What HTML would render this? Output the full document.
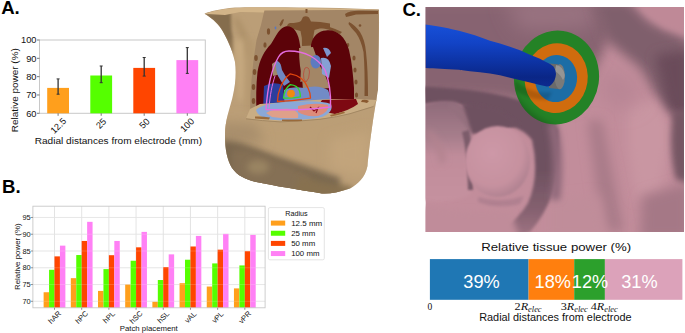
<!DOCTYPE html>
<html><head><meta charset="utf-8"><style>
html,body{margin:0;padding:0;background:#fff;width:685px;height:333px;overflow:hidden}
svg{display:block;font-family:"Liberation Sans", sans-serif}
</style></head><body>
<svg width="685" height="333" viewBox="0 0 685 333">
<defs>
<clipPath id="tc"><path id="tbody" d="M204.5 13.8 C210 11.5 220 9 235 7.6 C270 6.8 330 7.2 378.8 9.5 C379.8 30 377.5 70 376.5 100 C372.5 120 369 150 367.5 166 C365 178 358 184 350 188.5 C340 192 330 194 322 193.5 C300 190 275 186 255 181.8 C245 179 238 176 232 168 C226 158 224.5 145 225.2 130 C226.5 115 231 105 233 95 C235.5 85 236.4 72 235 62 C232 48 226 37 222 30 C217 22 210 17 204.5 13.8 Z"/></clipPath>
<linearGradient id="skin" x1="0" y1="0" x2="1" y2="1">
<stop offset="0" stop-color="#c9a97b"/><stop offset="1" stop-color="#b69a70"/>
</linearGradient>
</defs>
<g clip-path="url(#tc)">
<rect x="200" y="0" width="185" height="200" fill="#bb9e77"/>
<!-- shoulder front shadow -->
<path d="M203 13.5 L231 12.5 L231.5 30 L234 45 L233 56 L226 40 L216 24 Z" fill="#856d4d" filter="url(#b15)"/><path d="M236 16 Q246 30 252 55 L248 58 Q242 35 234 20 Z" fill="#a88c64" filter="url(#b3)"/>
<path d="M233 40 L244 40 L246 70 L244 100 L238 100 L236 60 Z" fill="#c6a97f" filter="url(#b3)"/><path d="M246 40 L256 40 L256 112 L246 112 Z" fill="#b59870" filter="url(#b3)"/>
<!-- lower shadow band -->
<path d="M220 118 L300 122 L376 104 L376 135 L300 150 L222 138 Z" fill="#bb9e76" filter="url(#b6)"/>
<path d="M220 122 L255 124 L265 142 L220 145 Z" fill="#a88e6c" filter="url(#b6)"/>
<path d="M220 140 Q240 141 252 147 Q275 156 300 164 Q320 171 340 177 L340 200 L220 200 Z" fill="#7a6850" filter="url(#b3)"/>
<path d="M232 150 Q250 148 262 155 Q290 165 310 176 L310 200 L232 200 Z" fill="#857055" filter="url(#b3)"/>
<ellipse cx="258" cy="167" rx="11" ry="7" fill="#9a8462" filter="url(#b3)"/>
<path d="M300 176 Q330 185 350 186 L360 200 L290 200 Z" fill="#87714f" filter="url(#b3)"/>
<path d="M330 140 Q350 135 370 130 L368 175 Q350 175 330 168 Z" fill="#c2a47b" filter="url(#b6)"/>
<!-- top surface strip -->
<path d="M204.5 13.8 C215 10 230 8 250 7 L378.8 9.5 L378.8 11.5 L264 12.5 L240 12 L225 15 Z" fill="#d2b488"/>
</g>
<!-- cut face -->
<path d="M264.4 10.5 L378.8 9.8 L378.6 60 L378 90 L376 101 L345 106 L300 115 L250 114 L250.5 95 L251.5 80 L253.5 60 L256.5 40 L261 25 Z" fill="#a38666"/>
<!-- brown spots/muscle -->
<g fill="#7c5230">
<path d="M303 17 Q306 15.5 309 17.5 L311 21.5 Q320 21.5 330 23.5 L330 28 Q320 27.5 314.5 30 Q312.5 38 313 45.5 L302 46 Q302.5 38 300.5 31 Q294 29 287.5 27.5 Q286 24.5 290 23 Q298 23 301 21 Z"/>
<path d="M305.5 9 L307.5 9 L307.5 13 L305.5 13 Z"/>
<path d="M345 14 Q350 10.5 360 10.8 L378 11 L378 14 Q365 14 356 14.5 Q350 16 346 17 Z"/>
<path d="M349 22 Q355 25 360 32 Q365 40 366 52 Q368 70 368 96 L364.5 96 Q365 70 363.5 52 Q361 40 356 33 Q351 28 348.5 24 Z"/>
<circle cx="360" cy="25.5" r="1.3"/>
<path d="M316 24 Q330 26 342 32 L340 34 Q330 29 316 27 Z"/>
<ellipse cx="348" cy="45" rx="1.3" ry="2"/>
<ellipse cx="354" cy="58" rx="1.6" ry="2.6"/>
<ellipse cx="355" cy="70" rx="1.6" ry="2.6"/>
<ellipse cx="356" cy="82" rx="1.6" ry="2.6"/>
<ellipse cx="356.5" cy="95" rx="1.6" ry="2.6"/>
<path d="M279.5 24.5 Q282 18.5 284 19.5 Q283 24 280.5 26.5 Z"/>
<ellipse cx="268.5" cy="31.5" rx="1.6" ry="3.2"/>
<ellipse cx="265" cy="45" rx="1.6" ry="2.8"/>
<ellipse cx="256" cy="58" rx="1.8" ry="3"/>
<ellipse cx="254.5" cy="72" rx="1.8" ry="3"/>
<ellipse cx="253.5" cy="87" rx="1.8" ry="3"/>
<ellipse cx="253.5" cy="101" rx="1.8" ry="3"/>
</g>
<ellipse cx="275.5" cy="28" rx="0.9" ry="1.4" fill="#5a78c0"/>
<!-- lungs -->
<path d="M286.4 26.3 C294 26 298.5 33 300 45 C302 55 302 62 301 66 L300 90 L285 105 L262 113 L256.5 112.5 C256 100 256 85 257.5 72 C259.5 60 264 51 271 44 C276 36 280 27 286.4 26.3 Z" fill="#5c0309"/>
<path d="M326 30.5 C335 29 345 35 349 50 C352 62 353 75 354 88 L354 101 L330 104 L318 80 C312 70 310 60 311 45 C313 35 319 31 326 30.5 Z" fill="#5c0309"/>
<path d="M300 82 L318 78 L322 70 L328 100 L300 106 Z" fill="#5c0309"/>
<!-- mediastinum tan -->
<path d="M299 48 L313 47 Q316 56 320 66 Q326 76 330 88 L303 90 Q302 75 300 66 Q299 58 299 48 Z" fill="#a38666"/>
<path d="M272 64 Q276 60 280 63 L281 74 L273 76 Z" fill="#a08868"/>
<!-- heart / blue region -->
<ellipse cx="315.8" cy="61.8" rx="5.3" ry="6.8" fill="#5d7bc0"/>
<path d="M276 60 Q281 62 282 70 Q285 76 290 82 L284 86 L278 76 Q275 68 276 60 Z" fill="#6f88c2"/>
<path d="M284 90 Q292 86 304 88 Q318 84 328 90 Q331 97 330 103 L300 107 L284 106 Z" fill="#728bc6"/>
<path d="M264 86 Q273 81 283 85 L285 108 L263 111 Z" fill="#2c3e9e"/>
<path d="M321 58 Q329 56 331 66 L329 78 L322 74 Z" fill="#86a0d4"/>
<path d="M323 48 Q329 47 331 53 L327 57 Z" fill="#7d95cc"/>
<path d="M305 68 Q309 66 309.5 72 Q309.5 79 306 82 Q303 80 303.5 74 Q304 70 305 68 Z" fill="none" stroke="#b84a3a" stroke-width="0.8"/>
<!-- floor -->
<path d="M246 118.5 Q262 120.5 280 121.6 Q300 121 320 119 Q338 116.5 350 113.4 L373 106.2 L376.5 100 L355 99 L330 99 L300 101 L260 104 L250 109 Z" fill="#c9ad84"/>
<path d="M246 118.8 Q262 120.8 280 121.9 Q300 121.3 320 119.3 Q338 116.8 350 113.7 L373.5 106.5" fill="none" stroke="#9f8460" stroke-width="0.9"/>
<path d="M322 100 L356 99 L358 104 Q350 110 335 114 Q322 112 318 106 Z" fill="#7e0912"/><path d="M362 100 Q366 99 369 101 L367 103 Q364 102 361 102 Z" fill="#8a5a30"/>
<path d="M256 110 Q262 103 290 102 Q320 100 331 104 Q334 112 322 117 Q300 121 275 120 Q258 118 256 110 Z" fill="#8aa8d8"/>
<path d="M266 113 Q275 108 292 109 Q300 112 298 118 Q285 119 272 117 Z" fill="#dfa08a"/>
<path d="M298 106 Q315 102 328 105 Q330 112 318 116 Q305 117 298 112 Z" fill="#dd8c7a"/>
<path d="M310 107 L314 111 L318 108 L316 113" stroke="#8a0a14" stroke-width="1.2" fill="none"/>
<g fill="#9a6a3a"><path d="M255 116.5 Q262 116 270 117.5 L269 119.5 Q261 119 255 118.5 Z"/><path d="M282 119.5 Q292 119.5 302 119.5 L302 121 Q292 121.5 282 121 Z"/><path d="M330 115 Q338 113 344 111.5 L345 113 Q338 115 331 116.5 Z"/></g>
<!-- contours -->
<g fill="none" stroke-linecap="round" stroke-linejoin="round">
<path d="M266 109.5 C267.5 88 272 68 278.5 57 Q282 51 289 51 C305 51 318 58 325 70 C329 80 331 93 330.5 107 Q300 111 266 109.5 Z" stroke="#e56de0" stroke-width="1.4"/>
<path d="M269 108 C270 95 272 85 275 76" stroke="#e56de0" stroke-width="1"/>
<path d="M277.4 101.5 C277.5 92 282 80 290.3 73.8 C298 75 305 80 308 88 C310 92 310.5 95 310.5 98.1 Q294 101 277.4 101.5 Z" stroke="#e2460d" stroke-width="1.3"/>
<path d="M283.5 98.1 C284 92 286.5 87 290.3 84.6 C295 85 298.5 88 299.5 91 C300.3 93.5 300.4 95 300.4 96.8 Q292 98.5 283.5 98.1 Z" stroke="#2fdc2f" stroke-width="1.3"/>
</g>
<circle cx="291" cy="93.6" r="3.9" fill="#f08a10"/>

<defs>
<clipPath id="cc"><rect x="425.5" y="7" width="258.5" height="225"/></clipPath>
<filter id="b10" x="-50%" y="-50%" width="200%" height="200%"><feGaussianBlur stdDeviation="10"/></filter>
<filter id="b6" x="-50%" y="-50%" width="200%" height="200%"><feGaussianBlur stdDeviation="6"/></filter>
<filter id="b3" x="-50%" y="-50%" width="200%" height="200%"><feGaussianBlur stdDeviation="3"/></filter>
<filter id="b15" x="-50%" y="-50%" width="200%" height="200%"><feGaussianBlur stdDeviation="1.5"/></filter>
<filter id="b08" x="-50%" y="-50%" width="200%" height="200%"><feGaussianBlur stdDeviation="0.8"/></filter>
<linearGradient id="tubeg" x1="0" y1="0" x2="0" y2="1">
<stop offset="0" stop-color="#1750d8"/><stop offset="0.3" stop-color="#1243c6"/><stop offset="0.6" stop-color="#0d33a4"/><stop offset="0.85" stop-color="#0a2686"/><stop offset="1" stop-color="#0c2a90"/>
</linearGradient>
<radialGradient id="sph" cx="0.42" cy="0.38" r="0.62">
<stop offset="0" stop-color="#cd98a7"/><stop offset="0.75" stop-color="#c6919f"/><stop offset="1" stop-color="#b28392"/>
</radialGradient>
</defs>
<g clip-path="url(#cc)">
<rect x="425.5" y="7" width="258.5" height="225" fill="#c28d9b"/>
<!-- upper mauve region -->
<path d="M415 0 L600 0 L612 30 L600 60 L575 110 L540 105 L500 98 L460 96 L415 98 Z" fill="#876471" filter="url(#b6)"/>
<path d="M505 0 L598 0 L592 28 L520 30 Z" fill="#9a7381" filter="url(#b10)"/>
<path d="M592 0 L628 0 L650 22 L690 40 L690 120 L664 108 L640 68 L606 40 Z" fill="#7f5f6c" filter="url(#b6)"/>
<path d="M655 55 L690 50 L690 118 L668 112 Z" fill="#6a4c5a" filter="url(#b6)"/>
<path d="M634 0 L690 0 L690 36 L664 28 L645 14 Z" fill="#bf8997" filter="url(#b3)"/>
<!-- right lighter area -->
<path d="M628 105 L655 100 L668 120 L668 150 L660 195 L635 198 L628 150 Z" fill="#c996a2" filter="url(#b6)"/>
<path d="M600 70 L630 75 L640 100 L620 110 L600 100 Z" fill="#b88594" filter="url(#b10)"/>
<path d="M673 112 L690 110 L690 185 L676 180 Q668 150 673 112 Z" fill="#765664" filter="url(#b3)"/>
<path d="M642 196 L690 182 L690 240 L640 240 Z" fill="#a57886" filter="url(#b6)"/>
<path d="M588 120 L602 120 L624 232 L602 232 Z" fill="#a87a88" filter="url(#b6)"/>
<path d="M550 200 L600 195 L610 240 L550 240 Z" fill="#c08d9a" filter="url(#b6)"/>
<!-- cavity inner dark region -->
<linearGradient id="crg" x1="0" y1="86" x2="0" y2="240" gradientUnits="userSpaceOnUse"><stop offset="0" stop-color="#6e5160"/><stop offset="0.55" stop-color="#6e5160"/><stop offset="0.8" stop-color="#84606f"/><stop offset="1" stop-color="#a37685"/></linearGradient>
<path d="M415 86 Q470 88 505 96 Q548 106 558 130 Q560 165 553 192 Q545 215 530 232 L500 240 L498 232 Q518 220 528 203 Q540 175 532 140 Q520 124 495 125 Q480 112 465 106 Q445 100 415 106 Z" fill="url(#crg)" filter="url(#b15)"/>
<path d="M478 197 Q500 204 524 196 L520 204 Q498 210 478 202 Z" fill="#b08090" filter="url(#b15)"/>
<path d="M556 120 Q566 150 560 200 L550 200 Q556 160 548 125 Z" fill="#90697a" filter="url(#b3)"/>
<!-- left bump -->
<linearGradient id="bumpg" x1="0" y1="0" x2="0" y2="1"><stop offset="0" stop-color="#8e6a79"/><stop offset="0.35" stop-color="#a67d8b"/><stop offset="0.55" stop-color="#c08c9a"/><stop offset="1" stop-color="#c5919f"/></linearGradient>
<path d="M420 106 Q440 99 456 102 Q468 108 472 122 Q472 160 470 195 Q445 205 420 200 Z" fill="url(#bumpg)" filter="url(#b15)"/>
<path d="M452 104 Q466 108 472 122 L470 132 Q460 118 448 106 Z" fill="#94707e" filter="url(#b15)"/>
<path d="M428 130 Q440 135 446 160 L440 165 Q436 140 426 134 Z" fill="#b3838f" filter="url(#b3)"/>
<path d="M462 132 Q467 150 468 190 L473 190 Q473 152 469 130 Z" fill="#7c5c6a" filter="url(#b08)"/>
<path d="M462 104 Q480 104 500 110 L520 124 L500 132 L472 134 Q468 118 462 104 Z" fill="#6e5160" filter="url(#b15)"/>
<!-- sphere -->
<ellipse cx="497.5" cy="161.4" rx="32.5" ry="35.5" fill="url(#sph)" filter="url(#b08)"/>
<!-- bottom -->
<path d="M420 205 Q470 215 510 210 L520 240 L420 240 Z" fill="#c08c9a" filter="url(#b3)"/>
<!-- disc -->
<g transform="rotate(8 556.5 77.5)">
<ellipse cx="556.5" cy="77.5" rx="42.5" ry="47" fill="#248226"/>
<ellipse cx="556.3" cy="78.2" rx="31.5" ry="35" fill="#d06c0e"/>
<ellipse cx="556.2" cy="78.6" rx="21" ry="23.6" fill="#1c6da6"/>
</g>
<clipPath id="dclip"><ellipse cx="556.5" cy="77.5" rx="42.5" ry="47" transform="rotate(8 556.5 77.5)"/></clipPath>
<g clip-path="url(#dclip)"><path d="M505 70 Q515 112 560 128 L500 135 Z" fill="#000" opacity="0.22" filter="url(#b3)"/>
<path d="M515 80 Q530 95 552 92 L548 100 Q528 100 515 90 Z" fill="#000" opacity="0.15" filter="url(#b15)"/></g>
<!-- tube -->
<path d="M549 63.5 L558 64.2 L560 89.2 L549 88 Z" fill="#6a6a6a"/>
<ellipse cx="559.8" cy="76.7" rx="5.1" ry="12.5" fill="#7a7a79"/>
<path d="M556 65 Q563 66 564.8 75 Q564.5 79 563 80 Q560 74 555 71 Z" fill="#959594"/>
<path d="M425.5 24.5 C440 26.5 450 28.5 459 30.8 C470 33.5 480 37 490 40.8 L500 43.5 L510 46.7 L520 50.3 L530 54.7 L540 58.8 L545 61.5 Q550 63.5 553.5 66.5 Q556 70 556 74 Q555.5 80 552 84 Q550 86.5 547 86.5 L540 84.9 L530 82.4 L515 78.9 L500 75.3 L490 73.5 L480 72.2 L470 71.3 C465 70.6 459 70 459 69.8 C445 69 435 68.5 425.5 68 Z" fill="url(#tubeg)"/>
</g>

<rect x="39.5" y="40.0" width="165.8" height="73.3" fill="none" stroke="#c8c8c8" stroke-width="1"/>
<rect x="47.20" y="87.9" width="21.8" height="25.40" fill="#ff9f1c"/>
<rect x="90.30" y="75.5" width="21.8" height="37.80" fill="#55ff00"/>
<rect x="133.30" y="67.9" width="21.8" height="45.40" fill="#ff4500"/>
<rect x="176.40" y="60.1" width="21.8" height="53.20" fill="#ff80f5"/>
<line x1="58.1" y1="78.9" x2="58.1" y2="94.2" stroke="#333" stroke-width="1.3"/>
<line x1="56.6" y1="78.9" x2="59.6" y2="78.9" stroke="#333" stroke-width="1"/>
<line x1="56.6" y1="94.2" x2="59.6" y2="94.2" stroke="#333" stroke-width="1"/>
<line x1="101.2" y1="66.0" x2="101.2" y2="82.7" stroke="#333" stroke-width="1.3"/>
<line x1="99.7" y1="66.0" x2="102.7" y2="66.0" stroke="#333" stroke-width="1"/>
<line x1="99.7" y1="82.7" x2="102.7" y2="82.7" stroke="#333" stroke-width="1"/>
<line x1="144.2" y1="57.5" x2="144.2" y2="76.1" stroke="#333" stroke-width="1.3"/>
<line x1="142.7" y1="57.5" x2="145.7" y2="57.5" stroke="#333" stroke-width="1"/>
<line x1="142.7" y1="76.1" x2="145.7" y2="76.1" stroke="#333" stroke-width="1"/>
<line x1="187.3" y1="47.6" x2="187.3" y2="73.4" stroke="#333" stroke-width="1.3"/>
<line x1="185.8" y1="47.6" x2="188.8" y2="47.6" stroke="#333" stroke-width="1"/>
<line x1="185.8" y1="73.4" x2="188.8" y2="73.4" stroke="#333" stroke-width="1"/>
<line x1="37.0" y1="113.30" x2="39.5" y2="113.30" stroke="#555" stroke-width="0.8"/>
<text x="36.5" y="116.60" font-size="9.3" text-anchor="end" fill="#111">60</text>
<line x1="37.0" y1="94.97" x2="39.5" y2="94.97" stroke="#555" stroke-width="0.8"/>
<text x="36.5" y="98.27" font-size="9.3" text-anchor="end" fill="#111">70</text>
<line x1="37.0" y1="76.65" x2="39.5" y2="76.65" stroke="#555" stroke-width="0.8"/>
<text x="36.5" y="79.95" font-size="9.3" text-anchor="end" fill="#111">80</text>
<line x1="37.0" y1="58.32" x2="39.5" y2="58.32" stroke="#555" stroke-width="0.8"/>
<text x="36.5" y="61.62" font-size="9.3" text-anchor="end" fill="#111">90</text>
<line x1="37.0" y1="40.00" x2="39.5" y2="40.00" stroke="#555" stroke-width="0.8"/>
<text x="36.5" y="43.30" font-size="9.3" text-anchor="end" fill="#111">100</text>
<line x1="58.1" y1="113.3" x2="58.1" y2="115.8" stroke="#555" stroke-width="0.8"/>
<text transform="translate(58.2,125.7) rotate(-45)" x="0" y="3.3" font-size="9.2" text-anchor="middle" fill="#111">12.5</text>
<line x1="101.2" y1="113.3" x2="101.2" y2="115.8" stroke="#555" stroke-width="0.8"/>
<text transform="translate(101,123.4) rotate(-45)" x="0" y="3.3" font-size="9.2" text-anchor="middle" fill="#111">25</text>
<line x1="144.2" y1="113.3" x2="144.2" y2="115.8" stroke="#555" stroke-width="0.8"/>
<text transform="translate(144.3,123.4) rotate(-45)" x="0" y="3.3" font-size="9.2" text-anchor="middle" fill="#111">50</text>
<line x1="187.3" y1="113.3" x2="187.3" y2="115.8" stroke="#555" stroke-width="0.8"/>
<text transform="translate(187,125) rotate(-45)" x="0" y="3.3" font-size="9.2" text-anchor="middle" fill="#111">100</text>
<text x="118.4" y="143.9" font-size="9.6" text-anchor="middle" fill="#111" textLength="167.4" lengthAdjust="spacingAndGlyphs">Radial distances from electrode (mm)</text>
<text transform="translate(17.6,90.2) rotate(-90)" font-size="9.3" text-anchor="middle" fill="#111" textLength="84" lengthAdjust="spacingAndGlyphs">Relative power (%)</text>
<line x1="32.9" y1="301.30" x2="265.1" y2="301.30" stroke="#dcdcdc" stroke-width="0.8"/>
<line x1="32.9" y1="284.54" x2="265.1" y2="284.54" stroke="#dcdcdc" stroke-width="0.8"/>
<line x1="32.9" y1="267.77" x2="265.1" y2="267.77" stroke="#dcdcdc" stroke-width="0.8"/>
<line x1="32.9" y1="251.00" x2="265.1" y2="251.00" stroke="#dcdcdc" stroke-width="0.8"/>
<line x1="32.9" y1="234.24" x2="265.1" y2="234.24" stroke="#dcdcdc" stroke-width="0.8"/>
<line x1="32.9" y1="217.48" x2="265.1" y2="217.48" stroke="#dcdcdc" stroke-width="0.8"/>
<line x1="54.50" y1="206.2" x2="54.50" y2="307.8" stroke="#dcdcdc" stroke-width="0.8"/>
<line x1="81.69" y1="206.2" x2="81.69" y2="307.8" stroke="#dcdcdc" stroke-width="0.8"/>
<line x1="108.88" y1="206.2" x2="108.88" y2="307.8" stroke="#dcdcdc" stroke-width="0.8"/>
<line x1="136.07" y1="206.2" x2="136.07" y2="307.8" stroke="#dcdcdc" stroke-width="0.8"/>
<line x1="163.26" y1="206.2" x2="163.26" y2="307.8" stroke="#dcdcdc" stroke-width="0.8"/>
<line x1="190.45" y1="206.2" x2="190.45" y2="307.8" stroke="#dcdcdc" stroke-width="0.8"/>
<line x1="217.64" y1="206.2" x2="217.64" y2="307.8" stroke="#dcdcdc" stroke-width="0.8"/>
<line x1="244.83" y1="206.2" x2="244.83" y2="307.8" stroke="#dcdcdc" stroke-width="0.8"/>
<rect x="43.62" y="292.25" width="5.44" height="15.55" fill="#ff9f1c"/>
<rect x="49.06" y="269.78" width="5.44" height="38.02" fill="#55ff00"/>
<rect x="54.50" y="256.37" width="5.44" height="51.43" fill="#ff4500"/>
<rect x="59.94" y="245.64" width="5.44" height="62.16" fill="#ff80f5"/>
<rect x="70.81" y="278.16" width="5.44" height="29.64" fill="#ff9f1c"/>
<rect x="76.25" y="255.03" width="5.44" height="52.77" fill="#55ff00"/>
<rect x="81.69" y="240.95" width="5.44" height="66.85" fill="#ff4500"/>
<rect x="87.13" y="221.83" width="5.44" height="85.97" fill="#ff80f5"/>
<rect x="98.00" y="290.91" width="5.44" height="16.89" fill="#ff9f1c"/>
<rect x="103.44" y="269.11" width="5.44" height="38.69" fill="#55ff00"/>
<rect x="108.88" y="255.20" width="5.44" height="52.60" fill="#ff4500"/>
<rect x="114.32" y="240.95" width="5.44" height="66.85" fill="#ff80f5"/>
<rect x="125.19" y="284.54" width="5.44" height="23.26" fill="#ff9f1c"/>
<rect x="130.63" y="260.73" width="5.44" height="47.07" fill="#55ff00"/>
<rect x="136.07" y="247.32" width="5.44" height="60.48" fill="#ff4500"/>
<rect x="141.51" y="231.89" width="5.44" height="75.91" fill="#ff80f5"/>
<rect x="152.38" y="301.80" width="5.44" height="6.00" fill="#ff9f1c"/>
<rect x="157.82" y="280.01" width="5.44" height="27.79" fill="#55ff00"/>
<rect x="163.26" y="267.10" width="5.44" height="40.70" fill="#ff4500"/>
<rect x="168.70" y="254.36" width="5.44" height="53.44" fill="#ff80f5"/>
<rect x="179.57" y="283.19" width="5.44" height="24.61" fill="#ff9f1c"/>
<rect x="185.01" y="259.72" width="5.44" height="48.08" fill="#55ff00"/>
<rect x="190.45" y="246.48" width="5.44" height="61.32" fill="#ff4500"/>
<rect x="195.89" y="235.92" width="5.44" height="71.88" fill="#ff80f5"/>
<rect x="206.76" y="286.55" width="5.44" height="21.25" fill="#ff9f1c"/>
<rect x="212.20" y="263.41" width="5.44" height="44.39" fill="#55ff00"/>
<rect x="217.64" y="249.66" width="5.44" height="58.14" fill="#ff4500"/>
<rect x="223.08" y="233.90" width="5.44" height="73.90" fill="#ff80f5"/>
<rect x="233.95" y="288.39" width="5.44" height="19.41" fill="#ff9f1c"/>
<rect x="239.39" y="265.42" width="5.44" height="42.38" fill="#55ff00"/>
<rect x="244.83" y="251.17" width="5.44" height="56.63" fill="#ff4500"/>
<rect x="250.27" y="234.91" width="5.44" height="72.89" fill="#ff80f5"/>
<line x1="32.9" y1="301.30" x2="265.1" y2="301.30" stroke="#ffffff" stroke-opacity="0.22" stroke-width="0.8"/>
<line x1="32.9" y1="284.54" x2="265.1" y2="284.54" stroke="#ffffff" stroke-opacity="0.22" stroke-width="0.8"/>
<line x1="32.9" y1="267.77" x2="265.1" y2="267.77" stroke="#ffffff" stroke-opacity="0.22" stroke-width="0.8"/>
<line x1="32.9" y1="251.00" x2="265.1" y2="251.00" stroke="#ffffff" stroke-opacity="0.22" stroke-width="0.8"/>
<line x1="32.9" y1="234.24" x2="265.1" y2="234.24" stroke="#ffffff" stroke-opacity="0.22" stroke-width="0.8"/>
<line x1="32.9" y1="217.48" x2="265.1" y2="217.48" stroke="#ffffff" stroke-opacity="0.22" stroke-width="0.8"/>
<rect x="32.9" y="206.2" width="232.20" height="101.60" fill="none" stroke="#c8c8c8" stroke-width="0.9"/>
<line x1="30.9" y1="301.30" x2="32.9" y2="301.30" stroke="#666" stroke-width="0.7"/>
<text x="30.7" y="303.90" font-size="7.4" text-anchor="end" fill="#111">70</text>
<line x1="30.9" y1="284.54" x2="32.9" y2="284.54" stroke="#666" stroke-width="0.7"/>
<text x="30.7" y="287.14" font-size="7.4" text-anchor="end" fill="#111">75</text>
<line x1="30.9" y1="267.77" x2="32.9" y2="267.77" stroke="#666" stroke-width="0.7"/>
<text x="30.7" y="270.37" font-size="7.4" text-anchor="end" fill="#111">80</text>
<line x1="30.9" y1="251.00" x2="32.9" y2="251.00" stroke="#666" stroke-width="0.7"/>
<text x="30.7" y="253.60" font-size="7.4" text-anchor="end" fill="#111">85</text>
<line x1="30.9" y1="234.24" x2="32.9" y2="234.24" stroke="#666" stroke-width="0.7"/>
<text x="30.7" y="236.84" font-size="7.4" text-anchor="end" fill="#111">90</text>
<line x1="30.9" y1="217.48" x2="32.9" y2="217.48" stroke="#666" stroke-width="0.7"/>
<text x="30.7" y="220.08" font-size="7.4" text-anchor="end" fill="#111">95</text>
<line x1="54.50" y1="307.8" x2="54.50" y2="309.8" stroke="#666" stroke-width="0.7"/>
<text transform="translate(54.50,317.2) rotate(-45)" y="2.6" font-size="7.5" text-anchor="middle" fill="#111">hAR</text>
<line x1="81.69" y1="307.8" x2="81.69" y2="309.8" stroke="#666" stroke-width="0.7"/>
<text transform="translate(81.69,317.2) rotate(-45)" y="2.6" font-size="7.5" text-anchor="middle" fill="#111">hPC</text>
<line x1="108.88" y1="307.8" x2="108.88" y2="309.8" stroke="#666" stroke-width="0.7"/>
<text transform="translate(108.88,317.2) rotate(-45)" y="2.6" font-size="7.5" text-anchor="middle" fill="#111">hPL</text>
<line x1="136.07" y1="307.8" x2="136.07" y2="309.8" stroke="#666" stroke-width="0.7"/>
<text transform="translate(136.07,317.2) rotate(-45)" y="2.6" font-size="7.5" text-anchor="middle" fill="#111">hSC</text>
<line x1="163.26" y1="307.8" x2="163.26" y2="309.8" stroke="#666" stroke-width="0.7"/>
<text transform="translate(163.26,317.2) rotate(-45)" y="2.6" font-size="7.5" text-anchor="middle" fill="#111">hSL</text>
<line x1="190.45" y1="307.8" x2="190.45" y2="309.8" stroke="#666" stroke-width="0.7"/>
<text transform="translate(190.45,317.2) rotate(-45)" y="2.6" font-size="7.5" text-anchor="middle" fill="#111">vAL</text>
<line x1="217.64" y1="307.8" x2="217.64" y2="309.8" stroke="#666" stroke-width="0.7"/>
<text transform="translate(217.64,317.2) rotate(-45)" y="2.6" font-size="7.5" text-anchor="middle" fill="#111">vPL</text>
<line x1="244.83" y1="307.8" x2="244.83" y2="309.8" stroke="#666" stroke-width="0.7"/>
<text transform="translate(244.83,317.2) rotate(-45)" y="2.6" font-size="7.5" text-anchor="middle" fill="#111">vPR</text>
<text x="148.8" y="330.8" font-size="7.4" text-anchor="middle" fill="#111" textLength="58" lengthAdjust="spacingAndGlyphs">Patch placement</text>
<text transform="translate(20.4,256.7) rotate(-90)" font-size="7.1" text-anchor="middle" fill="#111" textLength="66.6" lengthAdjust="spacingAndGlyphs">Relative power (%)</text>
<rect x="268.4" y="207.6" width="55.9" height="52.2" rx="1.5" fill="#fff" stroke="#dddddd" stroke-width="0.8"/>
<text x="296.5" y="215.7" font-size="7.2" text-anchor="middle" fill="#111">Radius</text>
<rect x="270.9" y="220.60" width="14.3" height="5" fill="#ff9f1c"/>
<text x="291.2" y="225.70" font-size="7.5" fill="#111" textLength="31" lengthAdjust="spacingAndGlyphs">12.5 mm</text>
<rect x="270.9" y="230.75" width="14.3" height="5" fill="#55ff00"/>
<text x="291.2" y="235.85" font-size="7.5" fill="#111" textLength="24" lengthAdjust="spacingAndGlyphs">25 mm</text>
<rect x="270.9" y="240.90" width="14.3" height="5" fill="#ff4500"/>
<text x="291.2" y="246.00" font-size="7.5" fill="#111" textLength="24" lengthAdjust="spacingAndGlyphs">50 mm</text>
<rect x="270.9" y="251.05" width="14.3" height="5" fill="#ff80f5"/>
<text x="291.2" y="256.15" font-size="7.5" fill="#111" textLength="28.2" lengthAdjust="spacingAndGlyphs">100 mm</text>
<rect x="429.90" y="259.1" width="98.70" height="40.70" fill="#1f77b4"/>
<rect x="528.60" y="259.1" width="45.60" height="40.70" fill="#ff7f0e"/>
<rect x="574.20" y="259.1" width="30.70" height="40.70" fill="#2ca02c"/>
<rect x="604.90" y="259.1" width="77.50" height="40.70" fill="#dca2ba"/>
<text x="481.5" y="287.8" font-size="18.2" text-anchor="middle" fill="#fff">39%</text>
<text x="552.8" y="287.8" font-size="18.2" text-anchor="middle" fill="#fff">18%</text>
<text x="590.0" y="287.8" font-size="18.2" text-anchor="middle" fill="#fff">12%</text>
<text x="639.4" y="287.8" font-size="18.2" text-anchor="middle" fill="#fff">31%</text>
<text x="556.2" y="251.2" font-size="11.2" text-anchor="middle" fill="#111" textLength="150" lengthAdjust="spacingAndGlyphs">Relative tissue power (%)</text>
<text x="555.4" y="321.4" font-size="11.2" text-anchor="middle" fill="#111" textLength="152.4" lengthAdjust="spacingAndGlyphs">Radial distances from electrode</text>
<text x="429.8" y="309.7" font-size="9.5" text-anchor="middle" fill="#111" font-family="Liberation Serif">0</text>
<text x="514.6" y="309.9" font-size="11" fill="#111" style="font-family:'Liberation Serif', serif" textLength="27" lengthAdjust="spacingAndGlyphs">2<tspan font-style="italic">R</tspan><tspan font-style="italic" font-size="7.6" dy="1.6">elec</tspan></text>
<text x="560.7" y="309.9" font-size="11" fill="#111" style="font-family:'Liberation Serif', serif" textLength="27" lengthAdjust="spacingAndGlyphs">3<tspan font-style="italic">R</tspan><tspan font-style="italic" font-size="7.6" dy="1.6">elec</tspan></text>
<text x="590.8" y="309.9" font-size="11" fill="#111" style="font-family:'Liberation Serif', serif" textLength="27" lengthAdjust="spacingAndGlyphs">4<tspan font-style="italic">R</tspan><tspan font-style="italic" font-size="7.6" dy="1.6">elec</tspan></text>
<text x="1.2" y="14" font-size="18.6" font-weight="bold" fill="#000">A.</text>
<text x="2" y="192.6" font-size="18.6" font-weight="bold" fill="#000">B.</text>
<text x="402.4" y="16" font-size="18.6" font-weight="bold" fill="#000">C.</text>
</svg>
</body></html>
